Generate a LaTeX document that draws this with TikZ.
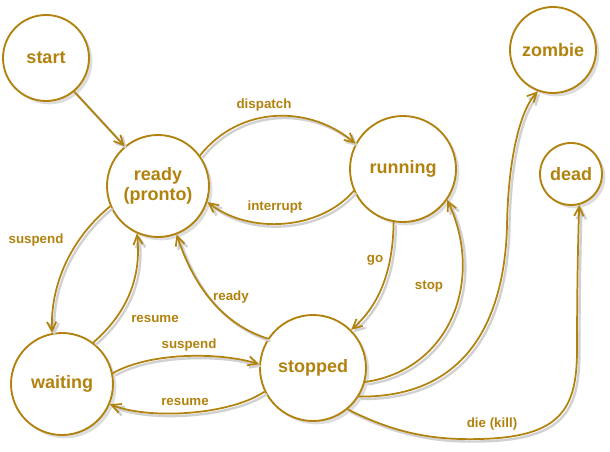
\documentclass[tikz,border=0pt]{standalone}
\usepackage{fontspec}
\setmainfont{Liberation Sans}
\usetikzlibrary{arrows.meta,shadows}
\definecolor{gold}{RGB}{178,130,14}
\begin{document}
\begin{tikzpicture}[x=0.75pt,y=-0.75pt,
  state/.style={circle,draw=gold,line width=1.4pt,fill=white,inner sep=0pt,
    text=gold,font=\bfseries\fontsize{13.5}{15}\selectfont,align=center,
    drop shadow={shadow xshift=2.5pt,shadow yshift=-2.5pt,opacity=0.22,fill=black!60}},
  elabel/.style={text=gold,font=\bfseries\fontsize{10}{12}\selectfont,inner sep=1pt},
  conn/.style={draw=gold,line width=1.3pt,-{Straight Barb[length=7pt,width=7pt]},
    preaction={draw=black!18,line width=1.8pt,transform canvas={shift={(1.8pt,-1.8pt)}}}},
]
\path[use as bounding box] (0,0) rectangle (610,452);
\fill[white] (0,0) rectangle (610,452);

\node[state,minimum size=64.5pt] (start) at (46,58) {start};
\node[state,minimum size=76.5pt] (ready) at (158,186) {ready\\(pronto)};
\node[state,minimum size=79.5pt] (running) at (403,169) {running};
\node[state,minimum size=64.5pt] (zombie) at (553,50) {zombie};
\node[state,minimum size=46.5pt] (dead) at (571,174) {dead};
\node[state,minimum size=76.5pt] (waiting) at (62,384) {waiting};
\node[state,minimum size=79.5pt] (stopped) at (313,368) {stopped};

\node[elabel] (ldispatch) at (264,105) {dispatch};
\node[elabel] (linterrupt) at (275,207) {interrupt};
\node[elabel] (lsuspend1) at (36,240) {suspend};
\node[elabel] (lresume1) at (155,319) {resume};
\node[elabel] (lready) at (231,297) {ready};
\node[elabel] (lsuspend2) at (189,345) {suspend};
\node[elabel] (lresume2) at (185,402) {resume};
\node[elabel] (lgo) at (375,260) {go};
\node[elabel] (lstop) at (429,287) {stop};
\node[elabel] (ldie) at (492,424) {die (kill)};

% start -> ready
\draw[conn] (start.-50) -- (ready.130);
% dispatch
\draw[conn] (ready.36) .. controls (240,105) and (310,105) .. (running.152);
% interrupt
\draw[conn] (running.204) .. controls (320,230) and (250,235) .. (ready.-18);
% suspend ready -> waiting
\draw[conn] (ready.203) .. controls (75,235) and (50,280) .. (waiting.101);
% resume waiting -> ready
\draw[conn] (waiting.53) .. controls (125,315) and (142,280) .. (ready.246);
% ready stopped -> ready
\draw[conn] (stopped.147) .. controls (225,325) and (195,290) .. (ready.-69);
% suspend waiting -> stopped
\draw[conn] (waiting.12) .. controls (150,352) and (220,352) .. (stopped.176);
% resume stopped -> waiting
\draw[conn] (stopped.206) .. controls (230,415) and (150,420) .. (waiting.-23);
% go running -> stopped
\draw[conn] (running.260) .. controls (393,260) and (385,300) .. (stopped.45);
% stop stopped -> running
\draw[conn] (stopped.-15) .. controls (450,370) and (485,280) .. (running.-35);
% stopped -> zombie
\draw[conn] (stopped.-32) .. controls (480,398) and (505,300) .. (507,226)
   .. controls (508,160) and (520,110) .. (zombie.-110);
% die (kill)
\draw[conn] (stopped.-50) .. controls (400,436) and (440,440) .. (480,439)
   .. controls (560,437) and (577,410) .. (577,350)
   .. controls (577,290) and (578,240) .. (dead.-75);
\end{tikzpicture}
\end{document}
